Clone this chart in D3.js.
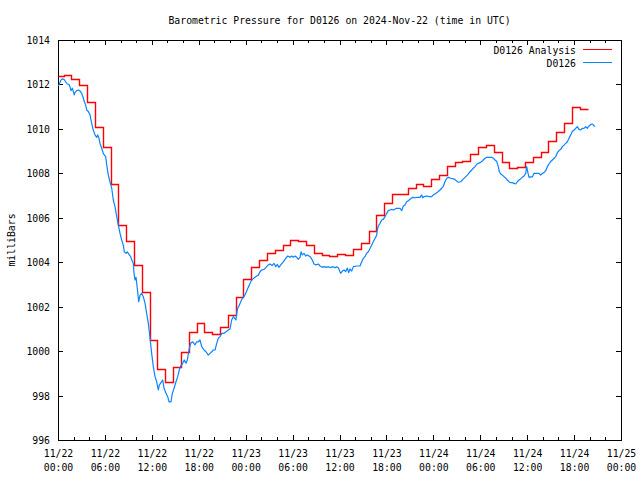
<!DOCTYPE html>
<html>
<head>
<meta charset="utf-8">
<script src="https://cdn.jsdelivr.net/npm/d3@7"></script>
<style>
  html, body { margin: 0; padding: 0; background: #fff; }
  svg { display: block; }
  text { font-family: "DejaVu Sans Mono", "Liberation Mono", monospace; font-size: 9.8px; fill: #000; }
</style>
</head>
<body>
<svg id="chart" width="640" height="480"></svg>
<script>
// ---------------- data ----------------
const titleText = "Barometric Pressure for D0126 on 2024-Nov-22 (time in UTC)";
const yLabel = "milliBars";
const seriesNames = ["D0126 Analysis", "D0126"];
const yTicks = [996, 998, 1000, 1002, 1004, 1006, 1008, 1010, 1012, 1014];
const xTickHours = [0, 6, 12, 18, 24, 30, 36, 42, 48, 54, 60, 66, 72];

// Analysis: hourly values (step line)
const analysisValues = [
  1012.38, 1012.42, 1012.24, 1011.97, 1011.20, 1010.10, 1009.17, 1007.50, 1005.67, 1004.95,
  1003.88, 1002.65, 1000.50, 999.18, 998.62, 999.27, 999.95, 1000.87, 1001.28, 1000.87,
  1000.77, 1001.07, 1001.62, 1002.42, 1003.25, 1003.77, 1004.10, 1004.43, 1004.55, 1004.78,
  1004.98, 1004.94, 1004.76, 1004.43, 1004.33, 1004.28, 1004.37, 1004.31, 1004.58, 1004.88,
  1005.40, 1006.12, 1006.68, 1007.05, 1007.05, 1007.33, 1007.50, 1007.42, 1007.76, 1007.91,
  1008.31, 1008.51, 1008.57, 1008.87, 1009.17, 1009.28, 1008.95, 1008.53, 1008.23, 1008.30,
  1008.53, 1008.75, 1008.95, 1009.44, 1009.85, 1010.25, 1010.97, 1010.88
];

// Observed station: hours since 11/22 00:00 UTC and pressure
const stationHours = [
  0.04,0.17,0.38,0.55,0.77,0.98,1.19,1.41,1.53,1.66,1.83,1.96,2.08,2.17,2.39,2.60,2.81,3.03,3.24,3.36,
  3.54,3.67,3.88,4.09,4.31,4.51,4.73,4.95,5.08,5.24,5.37,5.59,5.79,5.92,6.10,6.23,6.43,6.65,6.87,7.07,
  7.29,7.51,7.71,7.93,8.15,8.35,8.48,8.70,8.86,9.12,9.30,9.43,9.63,9.72,9.85,9.98,10.14,10.32,10.49,10.70,
  10.91,11.13,11.34,11.55,11.77,11.98,12.19,12.41,12.62,12.83,12.96,13.17,13.39,13.56,13.81,14.03,14.20,14.45,14.62,14.84,
  15.09,15.31,15.51,15.69,15.90,16.15,16.37,16.54,16.75,16.97,17.23,17.52,17.74,17.94,18.16,18.38,18.67,18.93,19.22,19.44,
  19.66,19.86,20.08,20.30,20.50,20.72,20.94,21.23,21.49,21.78,22.00,22.21,22.42,22.76,22.85,22.98,23.19,23.37,23.57,23.83,
  24.04,24.26,24.47,24.68,24.98,25.19,25.41,25.62,25.83,26.05,26.35,26.60,26.90,27.11,27.37,27.62,27.84,28.05,28.26,28.48,
  28.81,29.12,29.38,29.67,29.89,30.09,30.31,30.53,30.73,30.95,31.08,31.24,31.46,31.68,31.88,32.10,32.32,32.52,32.74,33.00,
  33.29,33.51,33.80,34.02,34.27,34.57,34.79,35.21,35.43,35.64,35.85,36.06,36.15,36.36,36.58,36.79,37.00,37.18,37.34,37.56,
  37.77,38.20,38.62,38.84,39.04,39.26,39.48,39.68,39.90,40.12,40.32,40.54,40.76,40.83,40.96,41.18,41.40,41.60,41.82,42.04,
  42.24,42.46,42.68,42.88,43.23,43.52,43.74,43.96,44.16,44.38,44.60,44.80,45.02,45.36,45.66,45.95,46.30,46.51,46.64,46.81,
  47.15,47.49,47.79,48.00,48.21,48.43,48.64,48.85,49.07,49.28,49.49,49.71,49.92,50.22,50.55,50.77,50.99,51.19,51.50,51.76,
  52.05,52.35,52.69,52.91,53.11,53.33,53.55,53.75,53.97,54.19,54.39,54.61,54.83,55.25,55.47,55.67,55.89,56.11,56.31,56.44,
  56.62,56.82,57.04,57.26,57.46,57.68,57.90,58.10,58.32,58.54,58.74,58.96,59.17,59.38,59.60,59.81,59.94,60.07,60.24,60.45,
  60.66,60.88,61.26,61.52,61.73,61.94,62.15,62.37,62.58,62.79,63.01,63.22,63.43,63.65,63.86,64.07,64.29,64.50,64.71,64.93,
  65.14,65.35,65.57,65.77,65.99,66.21,66.41,66.63,66.85,67.05,67.27,67.49,67.69,67.91,68.13,68.37,68.55,68.68
];
const stationValues = [
  1011.93,1012.02,1012.20,1012.25,1012.23,1012.12,1012.02,1012.00,1011.90,1011.72,1011.83,1011.68,1011.53,1011.63,1011.72,1011.75,1011.71,1011.60,1011.38,1011.23,
  1011.08,1010.85,1010.78,1010.63,1010.25,1009.95,1009.73,1009.62,1009.73,1009.58,1009.35,1009.13,1008.90,1008.83,1008.75,1008.38,1007.93,1007.62,1007.33,1006.80,
  1006.50,1006.05,1005.68,1005.30,1005.00,1004.77,1004.47,1004.40,1004.47,1004.33,1004.25,1004.10,1003.95,1003.50,1003.20,1003.32,1002.82,1002.22,1002.52,1002.60,
  1002.45,1002.15,1001.70,1001.25,1000.58,999.90,999.30,998.85,998.62,998.25,998.47,998.58,998.70,998.33,998.10,997.95,997.72,997.72,998.10,998.33,
  998.62,998.85,999.15,999.33,999.42,999.60,999.45,999.60,1000.05,1000.35,1000.42,1000.28,1000.42,1000.42,1000.50,1000.20,1000.05,999.97,999.82,999.90,
  999.97,1000.05,1000.05,1000.35,1000.58,1000.65,1000.80,1000.80,1000.87,1000.95,1001.00,1001.40,1001.55,1001.40,1001.70,1001.93,1002.07,1002.22,1002.37,1002.48,
  1002.63,1002.82,1002.97,1003.15,1003.27,1003.32,1003.38,1003.42,1003.57,1003.65,1003.68,1003.77,1003.88,1003.92,1003.85,1003.95,1003.80,1003.90,1003.77,1003.88,
  1004.02,1004.17,1004.28,1004.22,1004.28,1004.22,1004.28,1004.22,1004.13,1004.22,1004.47,1004.33,1004.40,1004.28,1004.33,1004.28,1004.22,1004.10,1003.92,1003.88,
  1003.92,1003.83,1003.77,1003.80,1003.77,1003.80,1003.76,1003.80,1003.75,1003.80,1003.75,1003.57,1003.50,1003.60,1003.65,1003.58,1003.73,1003.53,1003.70,1003.60,
  1003.80,1003.83,1003.83,1004.02,1004.17,1004.25,1004.40,1004.47,1004.62,1004.78,1004.92,1005.07,1005.22,1005.45,1005.63,1005.75,1005.90,1005.93,1006.05,1006.20,
  1006.32,1006.35,1006.38,1006.35,1006.42,1006.42,1006.42,1006.32,1006.53,1006.58,1006.72,1006.77,1006.83,1006.92,1006.90,1006.92,1006.92,1007.03,1006.90,1006.95,
  1006.98,1006.95,1006.95,1007.03,1007.07,1007.13,1007.18,1007.25,1007.33,1007.42,1007.62,1007.78,1007.82,1007.78,1007.75,1007.73,1007.65,1007.60,1007.62,1007.72,
  1007.82,1007.92,1008.07,1008.15,1008.23,1008.30,1008.41,1008.45,1008.48,1008.53,1008.60,1008.68,1008.72,1008.72,1008.72,1008.68,1008.60,1008.53,1008.30,1008.07,
  1007.97,1007.92,1007.85,1007.78,1007.70,1007.62,1007.58,1007.58,1007.55,1007.52,1007.62,1007.70,1007.75,1007.82,1007.88,1008.00,1008.30,1008.07,1007.82,1007.84,
  1007.84,1008.00,1008.00,1008.00,1007.92,1008.00,1008.03,1008.12,1008.30,1008.42,1008.53,1008.60,1008.68,1008.75,1008.93,1009.02,1009.08,1009.20,1009.27,1009.35,
  1009.42,1009.58,1009.73,1009.88,1009.95,1010.02,1010.10,1009.98,1009.95,1010.02,1010.02,1010.10,1010.02,1010.13,1010.20,1010.22,1010.14,1010.10
];

// ---------------- chart ----------------
const W = 640, H = 480;
const plot = { left: 58, right: 621, top: 40, bottom: 440 };
const colors = { analysis: "#ff0000", station: "#0a84ff" };

const svg = d3.select("#chart");
svg.append("rect").attr("width", W).attr("height", H).attr("fill", "#fff");

const startMs = Date.UTC(2024, 10, 22, 0, 0, 0);
const hourMs = 3600 * 1000;
const toDate = h => new Date(startMs + h * hourMs);

const x = d3.scaleUtc().domain([toDate(0), toDate(72)]).range([plot.left, plot.right]);
const y = d3.scaleLinear().domain([996, 1014]).range([plot.bottom, plot.top]);
const snap = v => Math.round(v) + 0.5;

const majorTicks = xTickHours.map(toDate);
const minorTicks = d3.range(0, 73, 2).filter(h => h % 6 !== 0).map(toDate);

function styleAxis(g) {
  g.attr("font-family", null).attr("font-size", null);
  g.select(".domain").remove();
  g.selectAll("line").attr("stroke", "#000").attr("shape-rendering", "crispEdges");
}

// bottom axis (major + labels)
const fmtDay = d3.utcFormat("%m/%d");
const fmtHour = d3.utcFormat("%H:%M");
const gBottom = svg.append("g").attr("transform", `translate(0,${plot.bottom})`)
  .call(d3.axisBottom(x).tickValues(majorTicks).tickSizeInner(-5).tickSizeOuter(0).tickFormat(""));
styleAxis(gBottom);
gBottom.selectAll(".tick").each(function(d) {
  const t = d3.select(this).select("text");
  t.attr("y", null).attr("dy", null).text(null).attr("fill", "#000");
  t.append("tspan").attr("x", 0).attr("y", 16.5).text(fmtDay(d));
  t.append("tspan").attr("x", 0).attr("y", 30.5).text(fmtHour(d));
});
const gBottomMinor = svg.append("g").attr("transform", `translate(0,${plot.bottom})`)
  .call(d3.axisBottom(x).tickValues(minorTicks).tickSizeInner(-3).tickSizeOuter(0).tickFormat(""));
styleAxis(gBottomMinor);

// top axis (mirror ticks)
const gTop = svg.append("g").attr("transform", `translate(0,${plot.top})`)
  .call(d3.axisTop(x).tickValues(majorTicks).tickSizeInner(-5).tickSizeOuter(0).tickFormat(""));
styleAxis(gTop);
const gTopMinor = svg.append("g").attr("transform", `translate(0,${plot.top})`)
  .call(d3.axisTop(x).tickValues(minorTicks).tickSizeInner(-3).tickSizeOuter(0).tickFormat(""));
styleAxis(gTopMinor);

// left axis
const gLeft = svg.append("g").attr("transform", `translate(${plot.left},0)`)
  .call(d3.axisLeft(y).tickValues(yTicks).tickSizeInner(-5).tickSizeOuter(0).tickFormat(d3.format("d")));
styleAxis(gLeft);
gLeft.selectAll("text").attr("x", -8).attr("dy", "0.36em").attr("fill", "#000");

// right axis (mirror ticks)
const gRight = svg.append("g").attr("transform", `translate(${plot.right},0)`)
  .call(d3.axisRight(y).tickValues(yTicks).tickSizeInner(-5).tickSizeOuter(0).tickFormat(""));
styleAxis(gRight);

// frame
svg.append("rect")
  .attr("x", plot.left + 0.5).attr("y", plot.top + 0.5)
  .attr("width", plot.right - plot.left).attr("height", plot.bottom - plot.top)
  .attr("fill", "none").attr("stroke", "#000").attr("stroke-width", 1)
  .attr("shape-rendering", "crispEdges");

// analysis step line
const analysisPts = analysisValues.map((v, j) => ({ h: j === 0 ? 0 : j - 0.28, v }));
analysisPts.push({ h: analysisValues.length - 0.28, v: analysisValues[analysisValues.length - 1] });
const stepLine = d3.line()
  .x(d => snap(x(toDate(d.h))))
  .y(d => snap(y(d.v)))
  .curve(d3.curveStepAfter);
svg.append("path").datum(analysisPts)
  .attr("d", stepLine)
  .attr("fill", "none").attr("stroke", colors.analysis).attr("stroke-width", 1.4)
  .attr("stroke-linejoin", "miter");

// station line
const stationPts = stationHours.map((h, i) => ({ h, v: stationValues[i] }));
const obsLine = d3.line().x(d => x(toDate(d.h))).y(d => y(d.v));
svg.append("path").datum(stationPts)
  .attr("d", obsLine)
  .attr("fill", "none").attr("stroke", colors.station).attr("stroke-width", 1.2)
  .attr("stroke-linejoin", "round");

// title
svg.append("text").attr("x", (plot.left + plot.right) / 2).attr("y", 23.5)
  .attr("text-anchor", "middle").text(titleText);

// y label
svg.append("text").attr("transform", `translate(11,${(plot.top + plot.bottom) / 2}) rotate(-90)`)
  .attr("text-anchor", "middle").attr("dy", "0.36em").text(yLabel);

// legend
const legend = svg.append("g");
[[seriesNames[0], colors.analysis, 50], [seriesNames[1], colors.station, 63]].forEach(([name, col, ly]) => {
  legend.append("text").attr("x", 576).attr("y", ly).attr("dy", "0.36em")
    .attr("text-anchor", "end").text(name);
  legend.append("line").attr("x1", 583).attr("x2", 612).attr("y1", ly - 0.5).attr("y2", ly - 0.5)
    .attr("stroke", col).attr("stroke-width", 1.4).attr("shape-rendering", "crispEdges");
});
</script>
</body>
</html>
